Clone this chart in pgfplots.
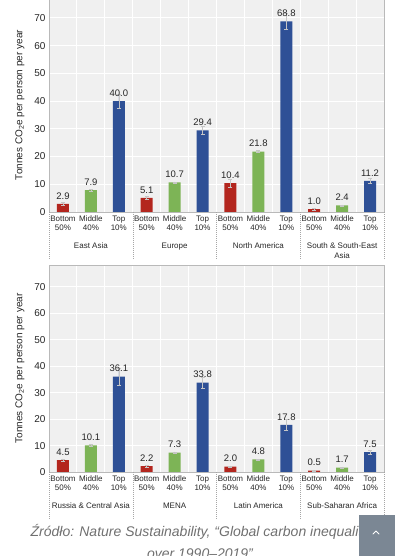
\documentclass[border=0pt]{standalone}
\usepackage{fontspec}
\setmainfont{Liberation Sans}
\usepackage{pgfplots}
\pgfplotsset{compat=1.18}
\definecolor{cred}{HTML}{B3261E}
\definecolor{cgreen}{HTML}{7DB456}
\definecolor{cblue}{HTML}{2E5096}
\definecolor{panelbg}{HTML}{F0F0F0}
\definecolor{txt}{HTML}{262626}
\definecolor{capt}{HTML}{707070}
\definecolor{btn}{HTML}{7B8794}

\pgfplotsset{
  panel/.style={
    scale only axis, width=335pt,
    xmin=-0.5, xmax=11.5, ymin=0,
    axis background/.style={fill=panelbg},
    axis line style={draw=gray!55, line width=0.6pt},
    ymajorgrids, xminorgrids,
    major grid style={white, line width=0.9pt},
    minor grid style={white, line width=0.9pt},
    minor xtick={0.5,1.5,...,10.5},
    xtick={0,...,11},
    xticklabels={{Bottom\\50\%},{Middle\\40\%},{Top\\10\%},{Bottom\\50\%},{Middle\\40\%},{Top\\10\%},{Bottom\\50\%},{Middle\\40\%},{Top\\10\%},{Bottom\\50\%},{Middle\\40\%},{Top\\10\%}},
    xticklabel style={align=center, font=\fontsize{8}{9}\selectfont, text=txt},
    ytick={0,10,...,70},
    yticklabel style={font=\fontsize{10}{12}\selectfont, text=txt},
    /pgf/number format/assume math mode=true,
    major tick length=0pt, minor tick length=0pt,
    clip=false,
    ylabel={Tonnes CO\textsubscript{2}e per person per year},
    every axis y label/.style={at={(axis description cs:-0.087,0.5)}, rotate=90, anchor=center, font=\fontsize{10}{12}\selectfont, text=txt},
    nodes near coords,
    nodes near coords style={font=\fontsize{9.5}{11}\selectfont, text=txt, inner sep=0pt, anchor=south, yshift=4.5pt,
      /pgf/number format/fixed, /pgf/number format/fixed zerofill, /pgf/number format/precision=1},
  },
  barp/.style={ybar, bar width=12pt, bar shift=0pt, draw=none, fill=#1,
    error bars/.cd, y dir=both, y explicit,
    error bar style={draw=gray!45, line width=0.5pt},
    error mark options={rotate=90, mark size=2pt, draw=gray!45, line width=0.5pt}},
}
\tikzset{
  sep/.style={draw=gray!70, line width=0.5pt, dash pattern=on 1pt off 1pt},
  grp/.style={font=\fontsize{8}{10}\selectfont, text=txt, align=center, anchor=north, inner sep=0pt},
}

\begin{document}
\begin{tikzpicture}[x=1pt,y=1pt]
\useasboundingbox (0,0) rectangle (400,556);
\clip (0,0) rectangle (400,556);

% ---------- top panel ----------
\begin{axis}[panel, at={(49pt,344pt)}, anchor=south west, height=214pt, ymax=77.2]
\addplot[barp=cred] coordinates {(0,2.9) +- (0,0.5) (3,5.1) +- (0,0.4) (6,10.4) +- (0,1.5) (9,1.0) +- (0,0.2)};
\addplot[barp=cgreen] coordinates {(1,7.9) +- (0,0.3) (4,10.7) +- (0,0.2) (7,21.8) +- (0,0.3) (10,2.4) +- (0,0.2)};
\addplot[barp=cblue] coordinates {(2,40.0) +- (0,2.5) (5,29.4) +- (0,1.5) (8,68.8) +- (0,3.0) (11,11.2) +- (0,1.0)};
\draw[sep] (axis cs:-0.5,0) -- ++(0pt,-47pt);
\draw[sep] (axis cs:2.5,0) -- ++(0pt,-47pt);
\draw[sep] (axis cs:5.5,0) -- ++(0pt,-47pt);
\draw[sep] (axis cs:8.5,0) -- ++(0pt,-47pt);
\draw[sep] (axis cs:11.5,0) -- ++(0pt,-47pt);
\node[grp] at (axis cs:1,0) [yshift=-31pt] {East Asia};
\node[grp] at (axis cs:4,0) [yshift=-31pt] {Europe};
\node[grp] at (axis cs:7,0) [yshift=-31pt] {North America};
\node[grp] at (axis cs:10,0) [yshift=-31pt] {South \& South-East\\Asia};
\end{axis}

% ---------- bottom panel ----------
\begin{axis}[panel, at={(49pt,84pt)}, anchor=south west, height=207pt, ymax=78.3]
\addplot[barp=cred] coordinates {(0,4.5) +- (0,0.5) (3,2.2) +- (0,0.3) (6,2.0) +- (0,0.3) (9,0.5) +- (0,0.1)};
\addplot[barp=cgreen] coordinates {(1,10.1) +- (0,0.4) (4,7.3) +- (0,0.3) (7,4.8) +- (0,0.2) (10,1.7) +- (0,0.2)};
\addplot[barp=cblue] coordinates {(2,36.1) +- (0,3.2) (5,33.8) +- (0,2.0) (8,17.8) +- (0,2.0) (11,7.5) +- (0,0.8)};
\draw[sep] (axis cs:-0.5,0) -- ++(0pt,-47pt);
\draw[sep] (axis cs:2.5,0) -- ++(0pt,-47pt);
\draw[sep] (axis cs:5.5,0) -- ++(0pt,-47pt);
\draw[sep] (axis cs:8.5,0) -- ++(0pt,-47pt);
\draw[sep] (axis cs:11.5,0) -- ++(0pt,-47pt);
\node[grp] at (axis cs:1,0) [yshift=-31pt] {Russia \& Central Asia};
\node[grp] at (axis cs:4,0) [yshift=-31pt] {MENA};
\node[grp] at (axis cs:7,0) [yshift=-31pt] {Latin America};
\node[grp] at (axis cs:10,0) [yshift=-31pt] {Sub-Saharan Africa};
\end{axis}

% ---------- caption ----------
\node[font=\fontsize{14}{16}\selectfont\itshape, text=capt, anchor=base] at (200,19) {Źródło: Nature Sustainability, “Global carbon inequality};
\node[font=\fontsize{14}{16}\selectfont\itshape, text=capt, anchor=base] at (200,-2.5) {over 1990–2019”};

% ---------- scroll button ----------
\fill[btn] (359,0) rectangle (395,41);
\draw[white, line width=1pt, line cap=round, line join=round] (373,22) -- (376,25) -- (379,22);
\end{tikzpicture}
\end{document}
